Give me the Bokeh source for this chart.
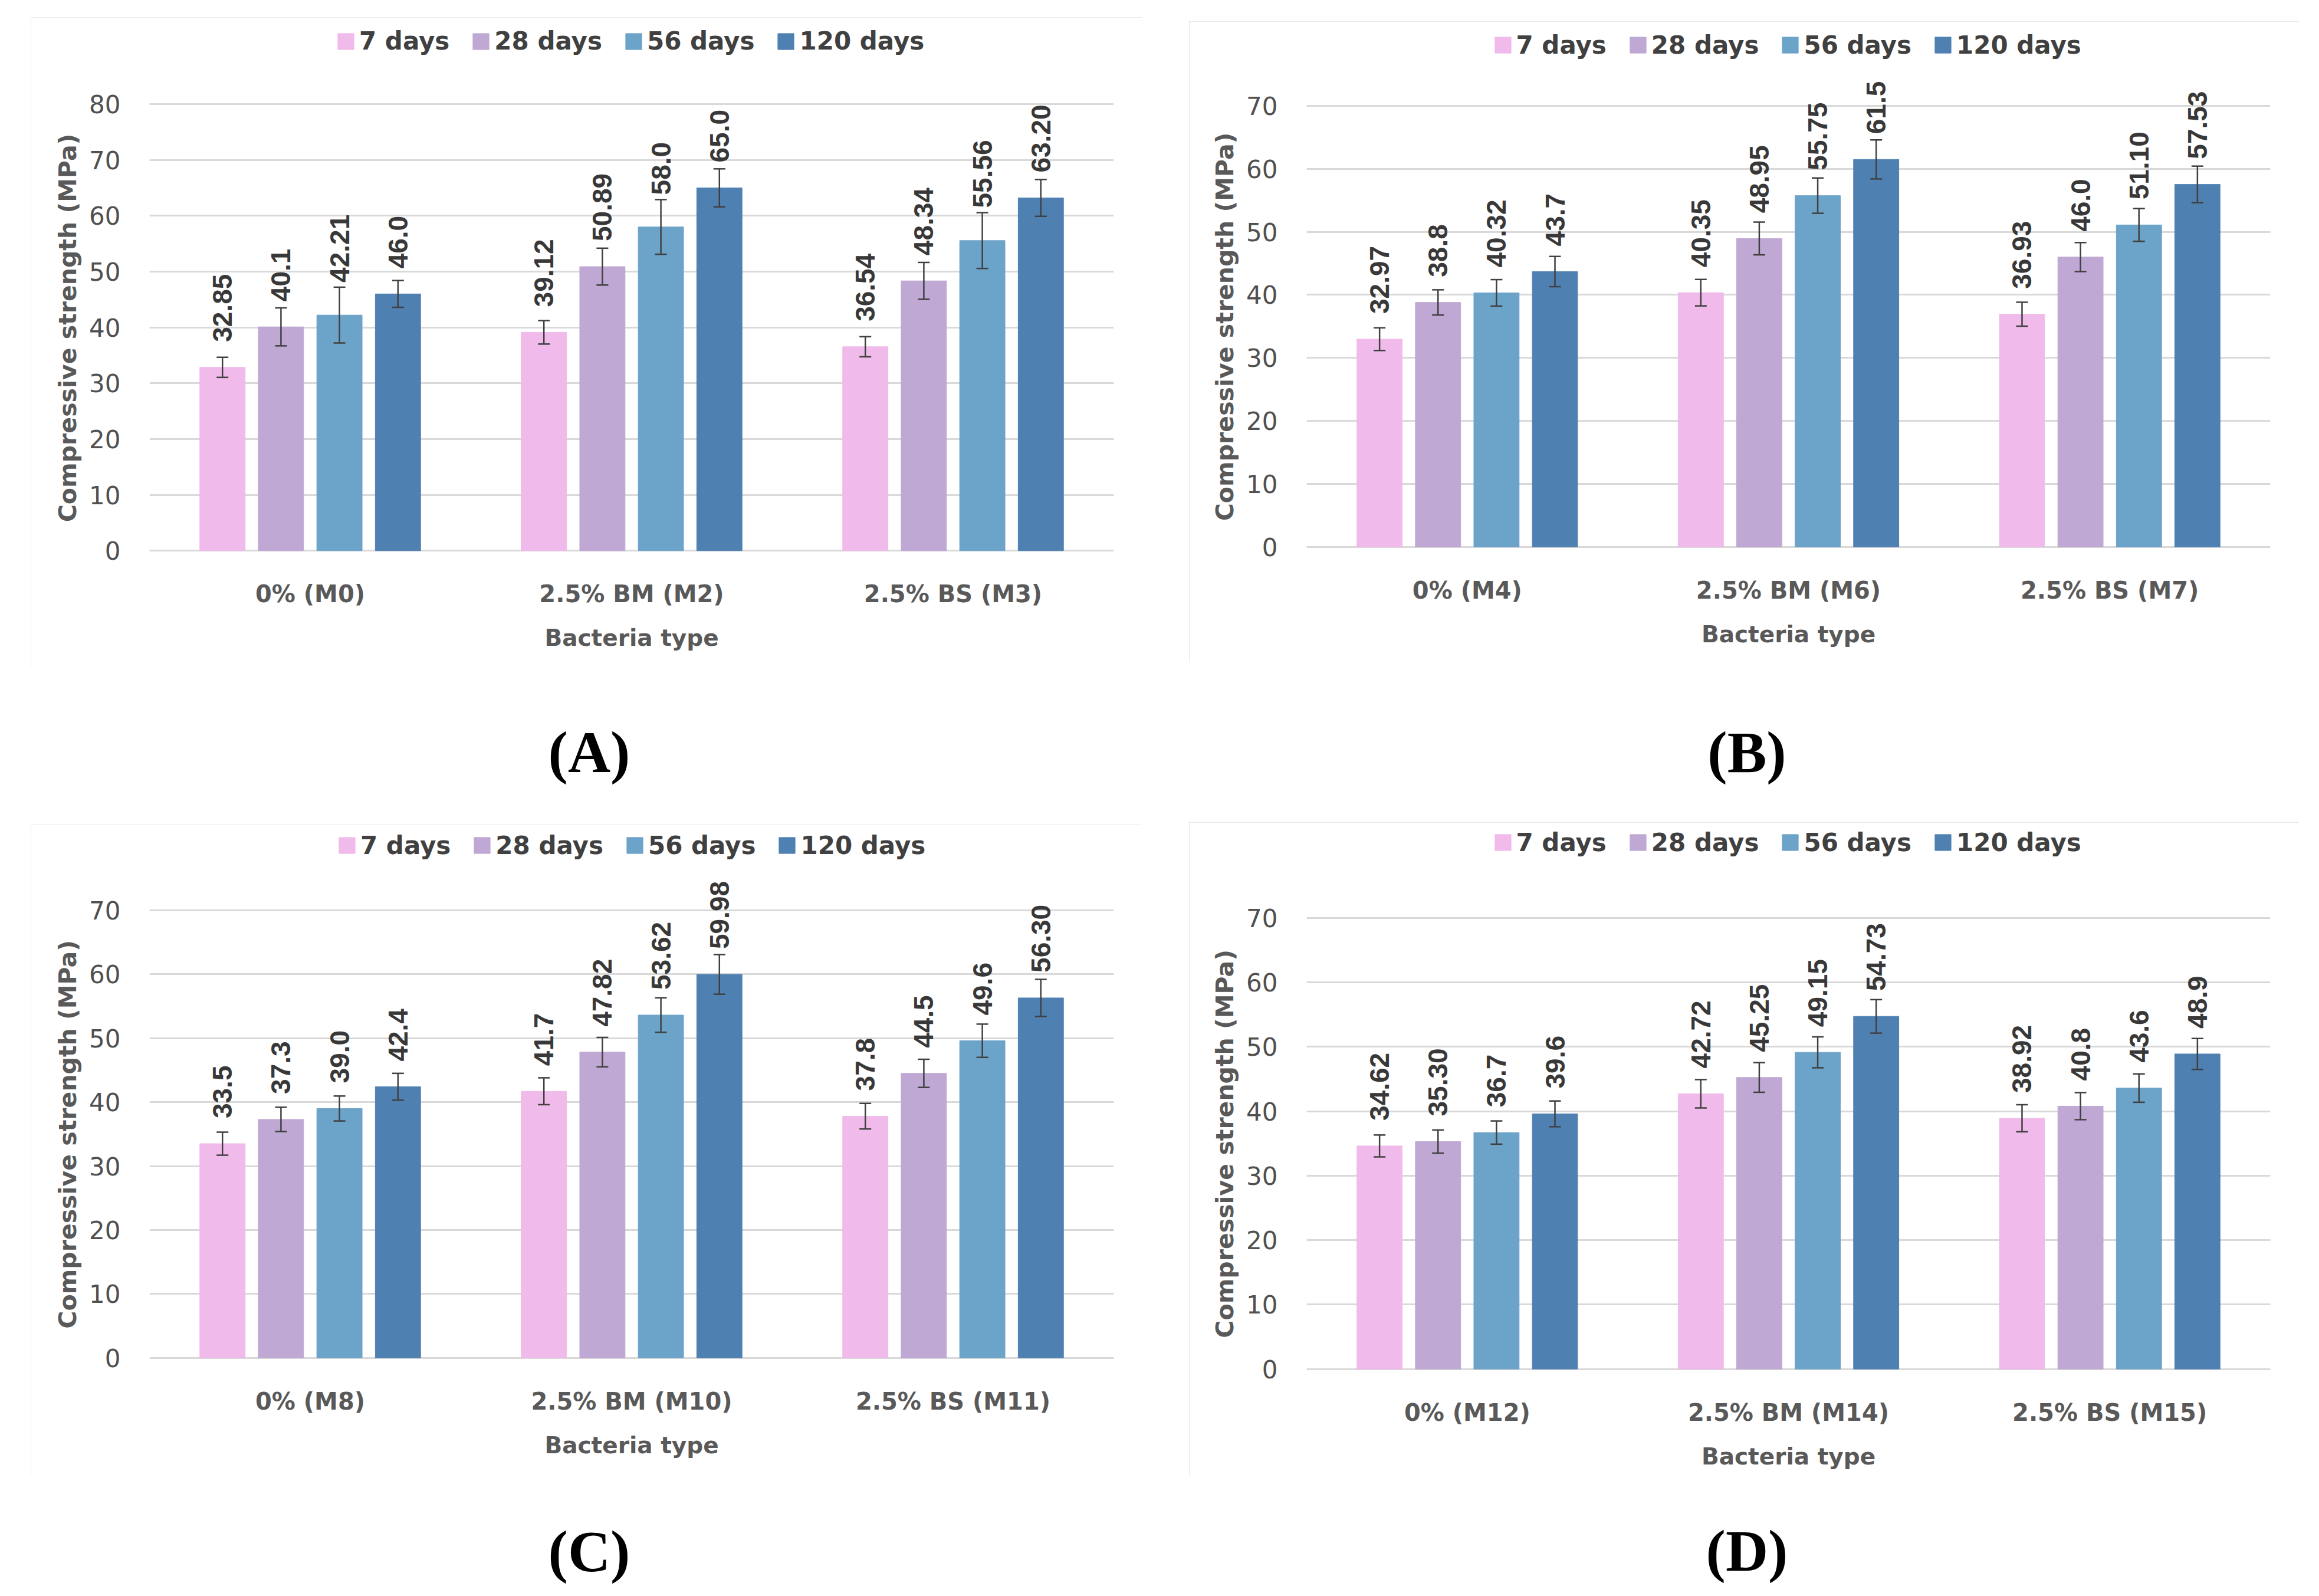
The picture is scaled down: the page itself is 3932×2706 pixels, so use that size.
import numpy as np
from bokeh.plotting import figure
from bokeh.models import (ColumnDataSource, FactorRange, Range1d, Whisker, TeeHead,
                          Legend, LegendItem, Div, Spacer, FixedTicker, Title)
from bokeh.layouts import row, column
from bokeh.transform import dodge
from bokeh.embed import file_html
from bokeh.resources import INLINE
from bokeh.core.properties import value

# ---------------- data ----------------
SERIES = ["7 days", "28 days", "56 days", "120 days"]
COLORS = ["#F0BAEA", "#BFA8D3", "#6CA3C9", "#4F80B2"]

# Panel A
cats_a = ["0% (M0)", "2.5% BM (M2)", "2.5% BS (M3)"]
a_7 = [32.85, 39.12, 36.54]
a_28 = [40.1, 50.89, 48.34]
a_56 = [42.21, 58.0, 55.56]
a_120 = [46.0, 65.0, 63.20]
a_err7 = [1.8, 2.1, 1.8]
a_err28 = [3.4, 3.3, 3.3]
a_err56 = [5.0, 4.9, 5.0]
a_err120 = [2.4, 3.4, 3.3]
a_lab7 = ["32.85", "39.12", "36.54"]
a_lab28 = ["40.1", "50.89", "48.34"]
a_lab56 = ["42.21", "58.0", "55.56"]
a_lab120 = ["46.0", "65.0", "63.20"]

# Panel B
cats_b = ["0% (M4)", "2.5% BM (M6)", "2.5% BS (M7)"]
b_7 = [32.97, 40.35, 36.93]
b_28 = [38.8, 48.95, 46.0]
b_56 = [40.32, 55.75, 51.10]
b_120 = [43.7, 61.5, 57.53]
b_err7 = [1.8, 2.1, 1.9]
b_err28 = [2.0, 2.6, 2.3]
b_err56 = [2.1, 2.8, 2.6]
b_err120 = [2.4, 3.1, 2.9]
b_lab7 = ["32.97", "40.35", "36.93"]
b_lab28 = ["38.8", "48.95", "46.0"]
b_lab56 = ["40.32", "55.75", "51.10"]
b_lab120 = ["43.7", "61.5", "57.53"]

# Panel C
cats_c = ["0% (M8)", "2.5% BM (M10)", "2.5% BS (M11)"]
c_7 = [33.5, 41.7, 37.8]
c_28 = [37.3, 47.82, 44.5]
c_56 = [39.0, 53.62, 49.6]
c_120 = [42.4, 59.98, 56.30]
c_err7 = [1.8, 2.1, 2.0]
c_err28 = [1.9, 2.3, 2.2]
c_err56 = [1.95, 2.7, 2.6]
c_err120 = [2.1, 3.1, 2.9]
c_lab7 = ["33.5", "41.7", "37.8"]
c_lab28 = ["37.3", "47.82", "44.5"]
c_lab56 = ["39.0", "53.62", "49.6"]
c_lab120 = ["42.4", "59.98", "56.30"]

# Panel D
cats_d = ["0% (M12)", "2.5% BM (M14)", "2.5% BS (M15)"]
d_7 = [34.62, 42.72, 38.92]
d_28 = [35.30, 45.25, 40.8]
d_56 = [36.7, 49.15, 43.6]
d_120 = [39.6, 54.73, 48.9]
d_err7 = [1.7, 2.2, 2.1]
d_err28 = [1.8, 2.3, 2.1]
d_err56 = [1.8, 2.4, 2.2]
d_err120 = [2.0, 2.6, 2.4]
d_lab7 = ["34.62", "42.72", "38.92"]
d_lab28 = ["35.30", "45.25", "40.8"]
d_lab56 = ["36.7", "49.15", "43.6"]
d_lab120 = ["39.6", "54.73", "48.9"]

Y_MAX = [80, 70, 70, 70]
PANEL_TAGS = ["(A)", "(B)", "(C)", "(D)"]
X_TITLE = "Bacteria type"
Y_TITLE = "Compressive strength (MPa)"

# ---------------- styling / geometry ----------------
OFFSETS = [-0.273, -0.091, 0.091, 0.273]
BAR_W = 0.141
PAD = 0.4
TOP_BORDER = 6
TICK_FONT = "DejaVu Sans"
BOLD_FONT = "DejaVu Sans"
LABEL_FONT = "Liberation Sans"
Y_TITLE_LEN = 660  # approx rendered length of the y title (px)

# W, H, frame_left, frame_right, y_px_of_top_tick, y_px_of_zero, legend_center_y
GEOM = [
    (1884, 1102, 201, 1836, 147, 904, 41),
    (1882, 1087, 199, 1833, 143, 891, 41),
    (1884, 1103, 197, 1836, 145, 904, 36),
    (1882, 1110, 199, 1833, 162, 927, 35),
]


def make_panel(cats, vals, errs, labs, ymax, geom):
    W, H, fl, fr, ytop, y0, leg_cy = geom
    ppu = (y0 - ytop) / ymax
    ftop = TOP_BORDER
    fbot = y0 + PAD * ppu
    y_end = ymax + (ytop - ftop) / ppu
    p = figure(x_range=FactorRange(factors=cats, range_padding=0),
               y_range=Range1d(-PAD, y_end),
               width=W, height=H, output_backend="svg", toolbar_location=None,
               min_border_left=fl, min_border_right=W - fr,
               min_border_top=ftop, min_border_bottom=int(round(H - fbot)))
    p.outline_line_color = None
    p.background_fill_color = "white"
    p.border_fill_color = "white"
    p.styles = {"outline": "2px solid #E0E0E0", "outline-offset": "-2px"}

    p.xgrid.grid_line_color = None
    p.ygrid.grid_line_color = "#D9D9D9"
    p.ygrid.grid_line_width = 3
    p.yaxis.ticker = FixedTicker(ticks=list(range(0, ymax + 1, 10)))

    for ax in (p.xaxis[0], p.yaxis[0]):
        ax.axis_line_color = None
        ax.major_tick_line_color = None
        ax.minor_tick_line_color = None
        ax.major_label_text_color = "#595959"
        ax.axis_label_text_color = "#595959"
        ax.axis_label_text_font = BOLD_FONT
        ax.axis_label_text_font_style = "bold"
    p.yaxis.major_label_text_font = TICK_FONT
    p.yaxis.major_label_text_font_size = "42px"
    p.yaxis.major_label_text_color = "#505050"
    p.yaxis.major_label_standoff = 43

    # y title as a left-side Title, bottom-aligned with an offset so that it
    # is centred on the 0..ymax span rather than on the (taller) frame
    want_center = (ytop + y0) / 2.0
    off = fbot - (want_center + Y_TITLE_LEN / 2.0)
    ytitle = Title(text=Y_TITLE, align="left", offset=off,
                   text_font=BOLD_FONT, text_font_style="bold", text_font_size="41px",
                   text_color="#595959", standoff=20)
    p.add_layout(ytitle, "left")

    p.xaxis.major_label_text_font = BOLD_FONT
    p.xaxis.major_label_text_font_style = "bold"
    p.xaxis.major_label_text_font_size = "40px"
    p.xaxis.major_label_standoff = 40
    p.xaxis.axis_label = X_TITLE
    p.xaxis.axis_label_text_font_size = "39px"
    p.xaxis.axis_label_standoff = 26
    p.xaxis.group_text_color = None

    items = []
    for i in range(4):
        up = [v + e for v, e in zip(vals[i], errs[i])]
        lo = [v - e for v, e in zip(vals[i], errs[i])]
        yoff = [-max(43.0, e * ppu + 8.0) for e in errs[i]]
        src = ColumnDataSource(dict(cat=cats, val=vals[i], up=up, lo=lo,
                                    lab=labs[i], yoff=yoff))
        xs = dodge("cat", OFFSETS[i], range=p.x_range)
        r = p.vbar(x=xs, top="val", bottom=0, width=BAR_W, source=src,
                   fill_color=COLORS[i], line_color=COLORS[i], line_width=1)
        items.append(LegendItem(label=SERIES[i], renderers=[r]))
        wk = Whisker(source=src, base=dodge("cat", OFFSETS[i], range=p.x_range),
                     upper="up", lower="lo", line_color="#404040", line_width=2.5,
                     level="overlay",
                     upper_head=TeeHead(size=20, line_color="#404040", line_width=2.5),
                     lower_head=TeeHead(size=20, line_color="#404040", line_width=2.5))
        p.add_layout(wk)
        p.text(x=dodge("cat", OFFSETS[i], range=p.x_range), y="val", text="lab",
               y_offset="yoff", source=src, angle=np.pi / 2,
               text_align="left", text_baseline="middle",
               text_font=value(LABEL_FONT), text_font_style="bold",
               text_font_size="46px", text_color="#383838")

    frame_w = fr - fl
    leg_w = 1003
    leg_h = 48
    vx = (frame_w - leg_w) / 2
    vy = fbot - (leg_cy + leg_h / 2)
    legend = Legend(items=items, orientation="horizontal", location=(vx, vy),
                    label_text_font=BOLD_FONT, label_text_font_style="bold",
                    label_text_font_size="42px", label_text_color="#404040",
                    glyph_width=34, glyph_height=34, label_standoff=6,
                    label_height=34, spacing=36, padding=0, margin=0,
                    border_line_alpha=0, background_fill_alpha=0)
    p.add_layout(legend)
    return p


def tag_div(txt, w, h, pad_top):
    html = ('<div style="width:%dpx;text-align:center;font-family:\'Liberation Serif\',\'Times New Roman\',serif;'
            'font-weight:bold;font-size:100px;line-height:1;padding-top:%dpx;color:#000">%s</div>'
            % (w, pad_top, txt))
    return Div(text=html, width=w, height=h)


pA = make_panel(cats_a, [a_7, a_28, a_56, a_120], [a_err7, a_err28, a_err56, a_err120],
                [a_lab7, a_lab28, a_lab56, a_lab120], Y_MAX[0], GEOM[0])
pB = make_panel(cats_b, [b_7, b_28, b_56, b_120], [b_err7, b_err28, b_err56, b_err120],
                [b_lab7, b_lab28, b_lab56, b_lab120], Y_MAX[1], GEOM[1])
pC = make_panel(cats_c, [c_7, c_28, c_56, c_120], [c_err7, c_err28, c_err56, c_err120],
                [c_lab7, c_lab28, c_lab56, c_lab120], Y_MAX[2], GEOM[2])
pD = make_panel(cats_d, [d_7, d_28, d_56, d_120], [d_err7, d_err28, d_err56, d_err120],
                [d_lab7, d_lab28, d_lab56, d_lab120], Y_MAX[3], GEOM[3])

left = column(Spacer(width=1884, height=29), pA,
              tag_div(PANEL_TAGS[0], 1884, 257, 90), pC,
              tag_div(PANEL_TAGS[2], 1884, 190, 75))
right = column(Spacer(width=1882, height=36), pB,
               tag_div(PANEL_TAGS[1], 1882, 261, 98), pD,
               tag_div(PANEL_TAGS[3], 1882, 190, 71))
page = row(Spacer(width=52, height=10), left, Spacer(width=70, height=10), right)

open("out.html", "w").write(file_html(page, INLINE))
